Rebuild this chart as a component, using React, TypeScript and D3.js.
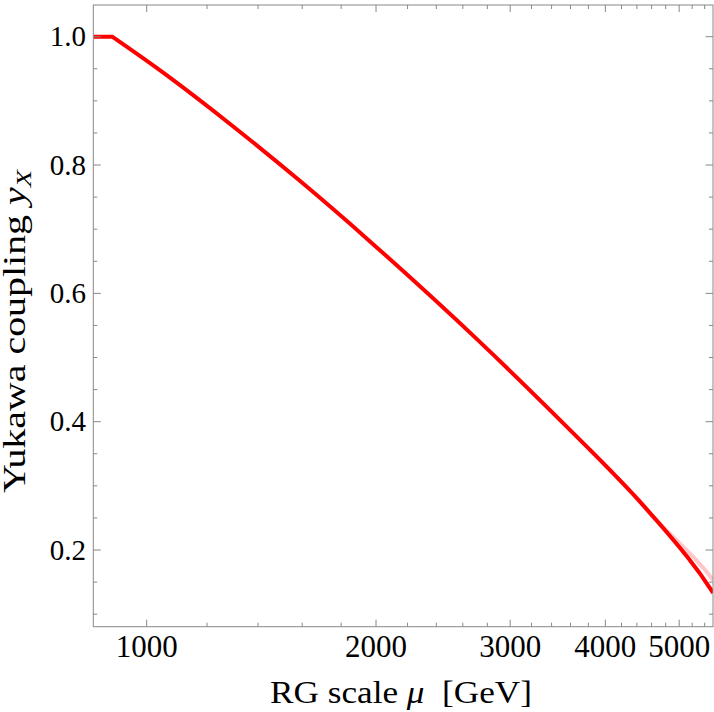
import React from 'react'
import * as d3 from 'd3'

// RG running of the Yukawa coupling
const muMain = [851, 901, 1062, 1299, 1590, 1964, 2739, 3819, 4443, 5135, 5540]
const yMain = [1.0, 1.0, 0.94, 0.86, 0.775, 0.681, 0.524, 0.356, 0.275, 0.188, 0.133]
// faint second curve, only visible where it leaves the main one
const muAlt = [3819, 4443, 4620, 5210, 5540]
const yAlt = [0.356, 0.275, 0.2515, 0.19, 0.153]

const xMajor = [1000, 2000, 3000, 4000, 5000]
const yMajor = [0.2, 0.4, 0.6, 0.8, 1.0]

const W = 714
const H = 712
const left = 93.3, right = 713, top = 5, bottom = 626.7

export default function App() {
    const x = d3.scaleLog().domain([851, 5538]).range([left, right])
    const y = d3.scaleLinear().domain([0.0805, 1.0494]).range([bottom, top])

    const xMinor = d3.range(1200, 5500, 200).filter(v => v % 1000 !== 0)
    const yMinor = d3.range(2, 21).map(i => i * 0.05).filter(v => Math.abs(v * 5 - Math.round(v * 5)) > 1e-6)

    const main = muMain.map((m, i) => [m, yMain[i]] as [number, number])
    const flat = d3.line<[number, number]>().x(d => x(d[0])).y(d => y(d[1]))(main.slice(0, 2)) || ''
    const bend = d3.line<[number, number]>().x(d => x(d[0])).y(d => y(d[1])).curve(d3.curveNatural)(main.slice(1)) || ''
    const mainD = flat + bend.replace(/^M/, 'L')

    const altD = d3.line<number>().x(d => x(muAlt[d])).y(d => y(yAlt[d])).curve(d3.curveNatural)(d3.range(muAlt.length)) || ''

    const frame = '#888'
    const font = '"Liberation Serif", "Times New Roman", serif'

    return (
        <svg width={W} height={H} style={{ position: 'absolute', left: 0, top: 0, background: '#fff' }}>
            <defs>
                <clipPath id="plot">
                    <rect x={left} y={top} width={right - left} height={bottom - top} />
                </clipPath>
            </defs>

            <g clipPath="url(#plot)">
                <path d={altD} fill="none" stroke="#ffc8c8" strokeWidth={4} />
                <path d={mainD} fill="none" stroke="#ff0000" strokeWidth={4} strokeLinejoin="miter" />
            </g>

            {/* frame */}
            <rect x={left} y={top} width={right - left} height={bottom - top} fill="none" stroke={frame} strokeWidth={1} />

            {/* x ticks, bottom + top, pointing inward */}
            {xMajor.map(v => (
                <g key={'xM' + v} stroke={frame}>
                    <line x1={x(v)} x2={x(v)} y1={bottom} y2={bottom - 7} />
                    <line x1={x(v)} x2={x(v)} y1={top} y2={top + 7} />
                </g>
            ))}
            {xMinor.map(v => (
                <g key={'xm' + v} stroke={frame}>
                    <line x1={x(v)} x2={x(v)} y1={bottom} y2={bottom - 4} />
                    <line x1={x(v)} x2={x(v)} y1={top} y2={top + 4} />
                </g>
            ))}
            {yMajor.map(v => (
                <g key={'yM' + v} stroke={frame}>
                    <line x1={left} x2={left + 7.5} y1={y(v)} y2={y(v)} />
                    <line x1={right} x2={right - 7.5} y1={y(v)} y2={y(v)} />
                </g>
            ))}
            {yMinor.map(v => (
                <g key={'ym' + v} stroke={frame}>
                    <line x1={left} x2={left + 4} y1={y(v)} y2={y(v)} />
                    <line x1={right} x2={right - 4} y1={y(v)} y2={y(v)} />
                </g>
            ))}

            {/* tick labels */}
            {xMajor.map(v => (
                <text key={'xl' + v} x={x(v)} y={657} textAnchor="middle" fontFamily={font} fontSize={31} fill="#000">
                    {String(v)}
                </text>
            ))}
            {yMajor.map(v => (
                <text key={'yl' + v} x={86} y={y(v) + 9.8} textAnchor="end" fontFamily={font} fontSize={29} fill="#000">
                    {d3.format('.1f')(v)}
                </text>
            ))}

            {/* axis titles */}
            <text x={401} y={703} textAnchor="middle" fontFamily={font} fontSize={32} fill="#000"
                textLength={262} lengthAdjust="spacingAndGlyphs" style={{ whiteSpace: 'pre' }}>
                RG scale <tspan fontStyle="italic">μ</tspan>{'  [GeV]'}
            </text>
            <text transform="translate(25,331.5) rotate(-90)" textAnchor="middle" fontFamily={font} fontSize={31} fill="#000"
                textLength={323} lengthAdjust="spacingAndGlyphs" style={{ whiteSpace: 'pre' }}>
                Yukawa coupling <tspan fontStyle="italic">y</tspan>
                <tspan fontStyle="italic" fontSize={22} dy={6}>X</tspan>
            </text>
        </svg>
    )
}
